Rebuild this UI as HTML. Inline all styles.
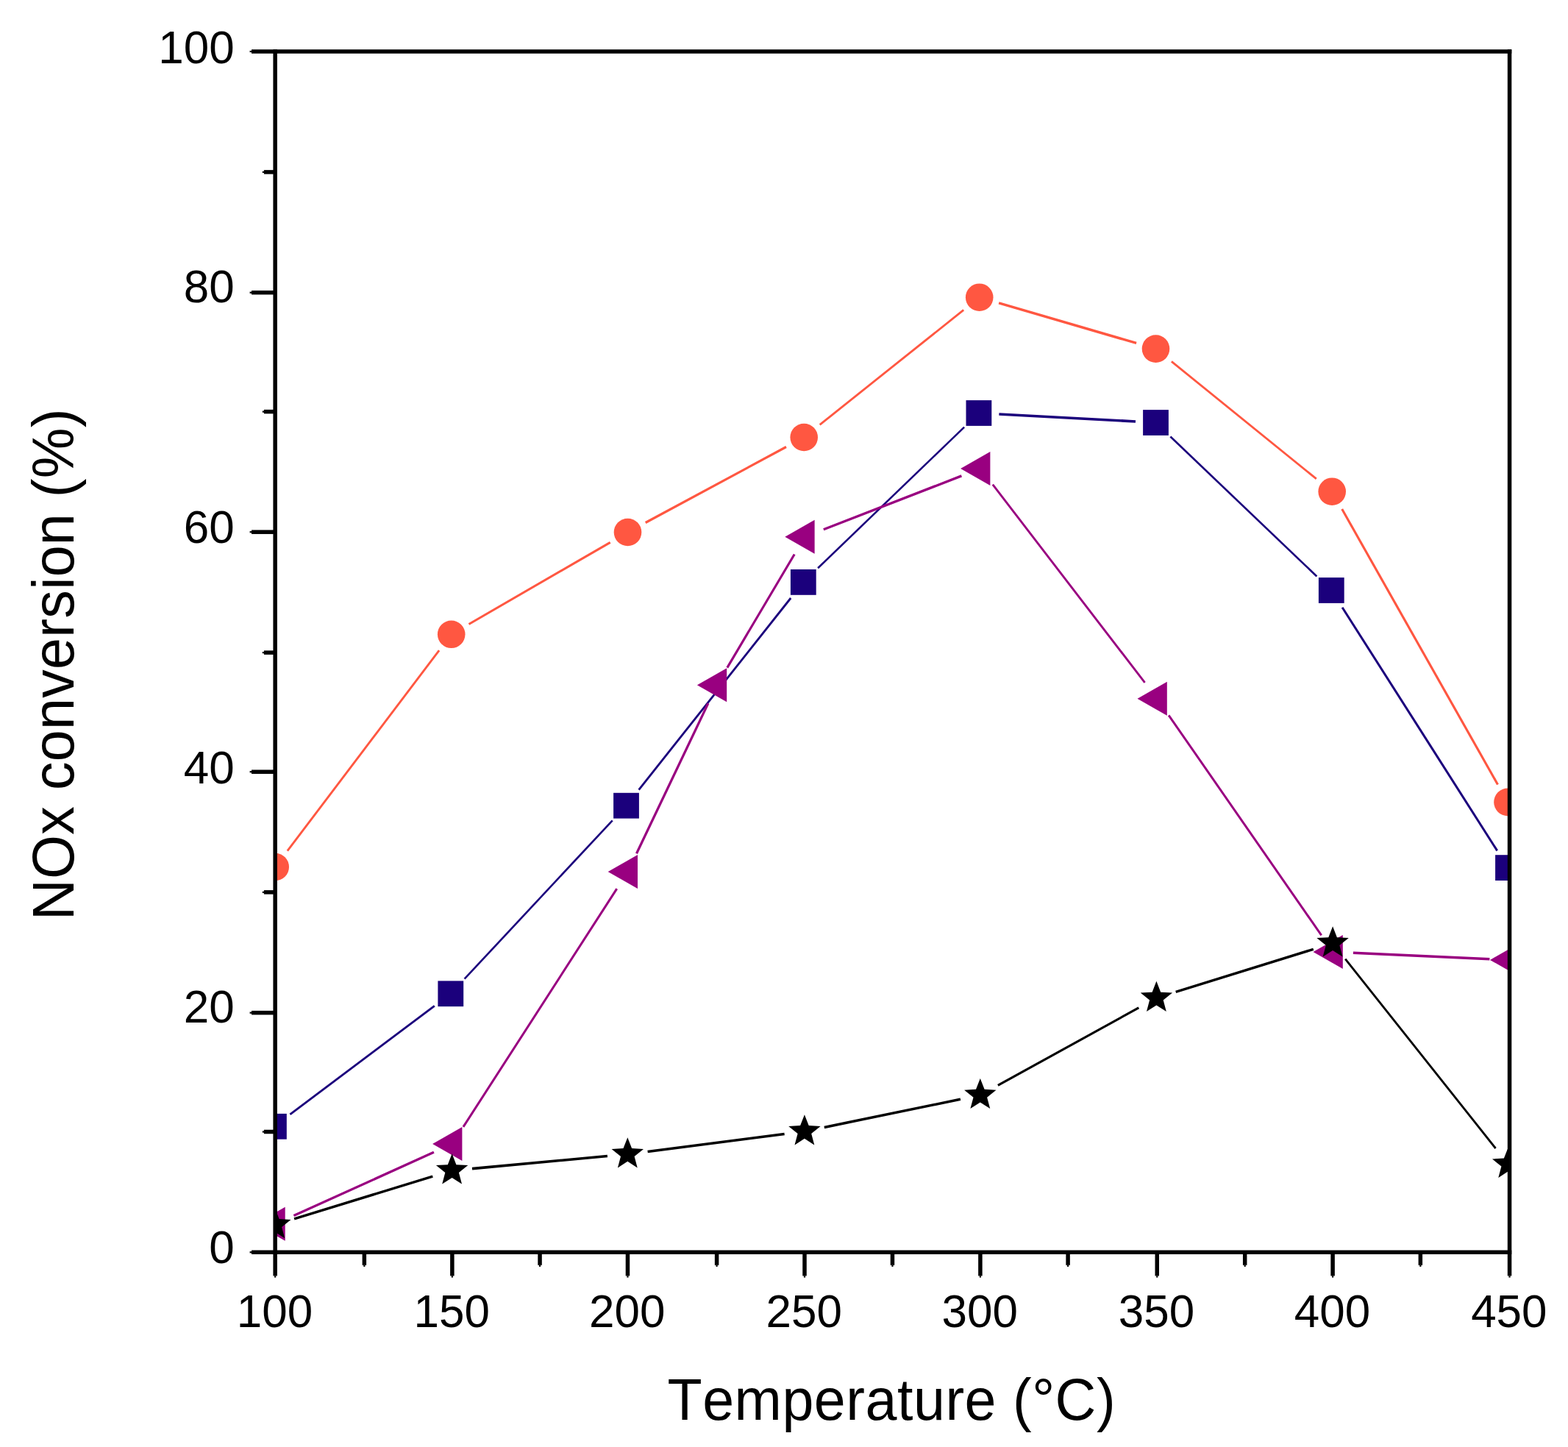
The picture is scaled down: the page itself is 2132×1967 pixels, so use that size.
<!DOCTYPE html><html><head><meta charset="utf-8"><style>html,body{margin:0;padding:0;background:#fff;}svg{display:block;}</style></head><body><svg width="2132" height="1967" viewBox="0 0 2132 1967"><rect width="2132" height="1967" fill="#fff"/><defs><clipPath id="pa"><rect x="374.15" y="70.0" width="1678.4" height="1632.25"/></clipPath></defs><g clip-path="url(#pa)"><g stroke="#ff5741" stroke-linecap="butt"><line x1="390.8" y1="1156.6" x2="597.1" y2="884.2" stroke-width="2.87"/><line x1="637.5" y1="848.5" x2="829.7" y2="737.3" stroke-width="3.12"/><line x1="877.7" y1="710.5" x2="1069.0" y2="607.5" stroke-width="3.17"/><line x1="1114.7" y1="577.3" x2="1310.2" y2="421.4" stroke-width="2.81"/><line x1="1358.1" y1="411.9" x2="1545.1" y2="466.4" stroke-width="3.46"/><line x1="1592.9" y1="491.4" x2="1789.8" y2="650.9" stroke-width="2.80"/><line x1="1824.7" y1="692.1" x2="2036.5" y2="1066.5" stroke-width="3.13"/></g><g fill="#ff5741"><circle cx="374.2" cy="1178.5" r="18.8"/><circle cx="613.7" cy="862.3" r="18.8"/><circle cx="853.5" cy="723.5" r="18.8"/><circle cx="1093.2" cy="594.5" r="18.8"/><circle cx="1331.7" cy="404.2" r="18.8"/><circle cx="1571.5" cy="474.1" r="18.8"/><circle cx="1811.2" cy="668.2" r="18.8"/><circle cx="2050.0" cy="1090.4" r="18.8"/></g><g stroke="#1b007c" stroke-linecap="butt"><line x1="394.4" y1="1514.8" x2="590.8" y2="1367.3" stroke-width="2.88"/><line x1="631.6" y1="1330.7" x2="832.7" y2="1115.3" stroke-width="2.63"/><line x1="868.6" y1="1073.6" x2="1075.2" y2="813.0" stroke-width="2.82"/><line x1="1112.1" y1="772.3" x2="1311.1" y2="580.6" stroke-width="2.59"/><line x1="1358.4" y1="563.0" x2="1544.0" y2="573.0" stroke-width="3.59"/><line x1="1591.4" y1="593.5" x2="1790.4" y2="783.5" stroke-width="2.60"/><line x1="1825.1" y1="825.7" x2="2035.7" y2="1156.4" stroke-width="3.04"/></g><g fill="#1b007c"><rect x="355.0" y="1513.9" width="34.8" height="34.8"/><rect x="595.4" y="1333.4" width="34.8" height="34.8"/><rect x="834.1" y="1077.8" width="34.8" height="34.8"/><rect x="1074.9" y="774.0" width="34.8" height="34.8"/><rect x="1313.5" y="544.1" width="34.8" height="34.8"/><rect x="1554.1" y="557.1" width="34.8" height="34.8"/><rect x="1792.9" y="785.1" width="34.8" height="34.8"/><rect x="2033.1" y="1162.2" width="34.8" height="34.8"/></g><g stroke="#990080" stroke-linecap="butt"><line x1="399.4" y1="1652.5" x2="589.9" y2="1566.3" stroke-width="3.28"/><line x1="629.9" y1="1531.9" x2="838.7" y2="1208.1" stroke-width="3.03"/><line x1="865.5" y1="1160.2" x2="962.9" y2="956.1" stroke-width="3.25"/><line x1="988.8" y1="907.6" x2="1080.2" y2="753.5" stroke-width="3.10"/><line x1="1119.8" y1="719.8" x2="1307.4" y2="646.9" stroke-width="3.36"/><line x1="1349.8" y1="658.7" x2="1556.6" y2="927.9" stroke-width="2.85"/><line x1="1589.1" y1="972.3" x2="1796.7" y2="1271.4" stroke-width="2.96"/><line x1="1839.9" y1="1295.2" x2="2025.4" y2="1303.7" stroke-width="3.60"/></g><g fill="#990080"><polygon points="347.4,1663.8 387.7,1640.8 387.7,1686.8"/><polygon points="588.1,1555.0 628.4,1532.0 628.4,1578.0"/><polygon points="826.7,1185.0 867.0,1162.0 867.0,1208.0"/><polygon points="947.9,931.3 988.2,908.3 988.2,954.3"/><polygon points="1067.3,729.8 1107.6,706.8 1107.6,752.8"/><polygon points="1306.1,636.9 1346.4,613.9 1346.4,659.9"/><polygon points="1546.5,949.7 1586.8,926.7 1586.8,972.7"/><polygon points="1785.5,1294.0 1825.8,1271.0 1825.8,1317.0"/><polygon points="2026.0,1304.9 2066.3,1281.9 2066.3,1327.9"/></g><g stroke="#000000" stroke-linecap="butt"><line x1="400.1" y1="1656.8" x2="588.3" y2="1599.2" stroke-width="3.44"/><line x1="642.0" y1="1588.6" x2="825.9" y2="1571.5" stroke-width="3.58"/><line x1="880.6" y1="1565.5" x2="1066.6" y2="1541.5" stroke-width="3.57"/><line x1="1120.8" y1="1532.4" x2="1305.9" y2="1494.3" stroke-width="3.53"/><line x1="1356.9" y1="1475.4" x2="1548.3" y2="1369.9" stroke-width="3.15"/><line x1="1598.7" y1="1348.4" x2="1785.8" y2="1290.3" stroke-width="3.44"/><line x1="1829.2" y1="1303.6" x2="2033.6" y2="1561.0" stroke-width="2.82"/></g><g fill="#000000"><polygon points="373.8,1642.1 379.6,1657.0 395.5,1657.9 383.1,1667.9 387.2,1683.3 373.8,1674.7 360.4,1683.3 364.5,1667.9 352.1,1657.9 368.0,1657.0"/><polygon points="614.6,1568.3 620.4,1583.2 636.3,1584.1 623.9,1594.1 628.0,1609.5 614.6,1600.9 601.2,1609.5 605.3,1594.1 592.9,1584.1 608.8,1583.2"/><polygon points="853.3,1546.2 859.1,1561.1 875.0,1562.0 862.6,1572.0 866.7,1587.4 853.3,1578.8 839.9,1587.4 844.0,1572.0 831.6,1562.0 847.5,1561.1"/><polygon points="1093.9,1515.2 1099.7,1530.1 1115.6,1531.0 1103.2,1541.0 1107.3,1556.4 1093.9,1547.8 1080.5,1556.4 1084.6,1541.0 1072.2,1531.0 1088.1,1530.1"/><polygon points="1332.8,1465.9 1338.6,1480.8 1354.5,1481.7 1342.1,1491.7 1346.2,1507.1 1332.8,1498.5 1319.4,1507.1 1323.5,1491.7 1311.1,1481.7 1327.0,1480.8"/><polygon points="1572.4,1333.8 1578.2,1348.7 1594.1,1349.6 1581.7,1359.6 1585.8,1375.0 1572.4,1366.4 1559.0,1375.0 1563.1,1359.6 1550.7,1349.6 1566.6,1348.7"/><polygon points="1812.1,1259.3 1817.9,1274.2 1833.8,1275.1 1821.4,1285.1 1825.5,1300.5 1812.1,1291.9 1798.7,1300.5 1802.8,1285.1 1790.4,1275.1 1806.3,1274.2"/><polygon points="2050.7,1559.7 2056.5,1574.6 2072.4,1575.5 2060.0,1585.5 2064.1,1600.9 2050.7,1592.3 2037.3,1600.9 2041.4,1585.5 2029.0,1575.5 2044.9,1574.6"/></g></g><g fill="#000"><rect x="371.40" y="67.25" width="5.50" height="1667.15"/><rect x="2049.80" y="67.25" width="5.50" height="1667.15"/><rect x="342.00" y="67.25" width="1713.30" height="5.50"/><rect x="342.00" y="1699.50" width="1713.30" height="5.50"/><rect x="339.60" y="1701.15" width="2.50" height="2.20"/><rect x="342.00" y="1373.95" width="32.15" height="5.50"/><rect x="339.60" y="1375.60" width="2.50" height="2.20"/><rect x="342.00" y="1046.45" width="32.15" height="5.50"/><rect x="339.60" y="1048.10" width="2.50" height="2.20"/><rect x="342.00" y="720.45" width="32.15" height="5.50"/><rect x="339.60" y="722.10" width="2.50" height="2.20"/><rect x="342.00" y="394.95" width="32.15" height="5.50"/><rect x="339.60" y="396.60" width="2.50" height="2.20"/><rect x="339.60" y="68.90" width="2.50" height="2.20"/><rect x="358.90" y="1535.75" width="15.25" height="5.50"/><rect x="356.80" y="1537.40" width="2.20" height="2.20"/><rect x="358.90" y="1210.10" width="15.25" height="5.50"/><rect x="356.80" y="1211.75" width="2.20" height="2.20"/><rect x="358.90" y="884.35" width="15.25" height="5.50"/><rect x="356.80" y="886.00" width="2.20" height="2.20"/><rect x="358.90" y="556.85" width="15.25" height="5.50"/><rect x="356.80" y="558.50" width="2.20" height="2.20"/><rect x="358.90" y="231.15" width="15.25" height="5.50"/><rect x="356.80" y="232.80" width="2.20" height="2.20"/><rect x="373.05" y="1734.30" width="2.20" height="2.30"/><rect x="612.10" y="1702.25" width="5.50" height="32.15"/><rect x="613.75" y="1734.30" width="2.20" height="2.30"/><rect x="850.70" y="1702.25" width="5.50" height="32.15"/><rect x="852.35" y="1734.30" width="2.20" height="2.30"/><rect x="1091.25" y="1702.25" width="5.50" height="32.15"/><rect x="1092.90" y="1734.30" width="2.20" height="2.30"/><rect x="1330.15" y="1702.25" width="5.50" height="32.15"/><rect x="1331.80" y="1734.30" width="2.20" height="2.30"/><rect x="1570.50" y="1702.25" width="5.50" height="32.15"/><rect x="1572.15" y="1734.30" width="2.20" height="2.30"/><rect x="1809.35" y="1702.25" width="5.50" height="32.15"/><rect x="1811.00" y="1734.30" width="2.20" height="2.30"/><rect x="2051.45" y="1734.30" width="2.20" height="2.30"/><rect x="492.60" y="1702.25" width="5.50" height="17.55"/><rect x="494.25" y="1719.70" width="2.20" height="2.20"/><rect x="731.30" y="1702.25" width="5.50" height="17.55"/><rect x="732.95" y="1719.70" width="2.20" height="2.20"/><rect x="971.85" y="1702.25" width="5.50" height="17.55"/><rect x="973.50" y="1719.70" width="2.20" height="2.20"/><rect x="1210.70" y="1702.25" width="5.50" height="17.55"/><rect x="1212.35" y="1719.70" width="2.20" height="2.20"/><rect x="1449.35" y="1702.25" width="5.50" height="17.55"/><rect x="1451.00" y="1719.70" width="2.20" height="2.20"/><rect x="1689.95" y="1702.25" width="5.50" height="17.55"/><rect x="1691.60" y="1719.70" width="2.20" height="2.20"/><rect x="1928.60" y="1702.25" width="5.50" height="17.55"/><rect x="1930.25" y="1719.70" width="2.20" height="2.20"/></g><g font-family="Liberation Sans, Arial, sans-serif" style="font-kerning:none" font-size="62" fill="#000"><text transform="translate(318.7,1717.3) scale(1,1.015)" text-anchor="end">0</text><text transform="translate(318.7,1390.4) scale(1,1.015)" text-anchor="end">20</text><text transform="translate(318.7,1064.7) scale(1,1.015)" text-anchor="end">40</text><text transform="translate(318.7,738.4) scale(1,1.015)" text-anchor="end">60</text><text transform="translate(318.7,410.9) scale(1,1.015)" text-anchor="end">80</text><text transform="translate(318.7,85.7) scale(1,1.015)" text-anchor="end">100</text><text transform="translate(373.45,1804.4) scale(1,1.015)" text-anchor="middle">100</text><text transform="translate(614.15,1804.4) scale(1,1.015)" text-anchor="middle">150</text><text transform="translate(852.75,1804.4) scale(1,1.015)" text-anchor="middle">200</text><text transform="translate(1093.30,1804.4) scale(1,1.015)" text-anchor="middle">250</text><text transform="translate(1332.20,1804.4) scale(1,1.015)" text-anchor="middle">300</text><text transform="translate(1572.55,1804.4) scale(1,1.015)" text-anchor="middle">350</text><text transform="translate(1811.40,1804.4) scale(1,1.015)" text-anchor="middle">400</text><text transform="translate(2051.85,1804.4) scale(1,1.015)" text-anchor="middle">450</text></g><text transform="translate(907.5,1929.5) scale(1,1.044)" font-family="Liberation Sans, Arial, sans-serif" style="font-kerning:none" font-size="77.2" textLength="609.1" lengthAdjust="spacing">Temperature (°C)</text><text transform="translate(99.8,1251.1) rotate(-90) scale(1,1.044)" font-family="Liberation Sans, Arial, sans-serif" style="font-kerning:none" font-size="77.2" textLength="695.6" lengthAdjust="spacing">NOx conversion (%)</text></svg></body></html>
